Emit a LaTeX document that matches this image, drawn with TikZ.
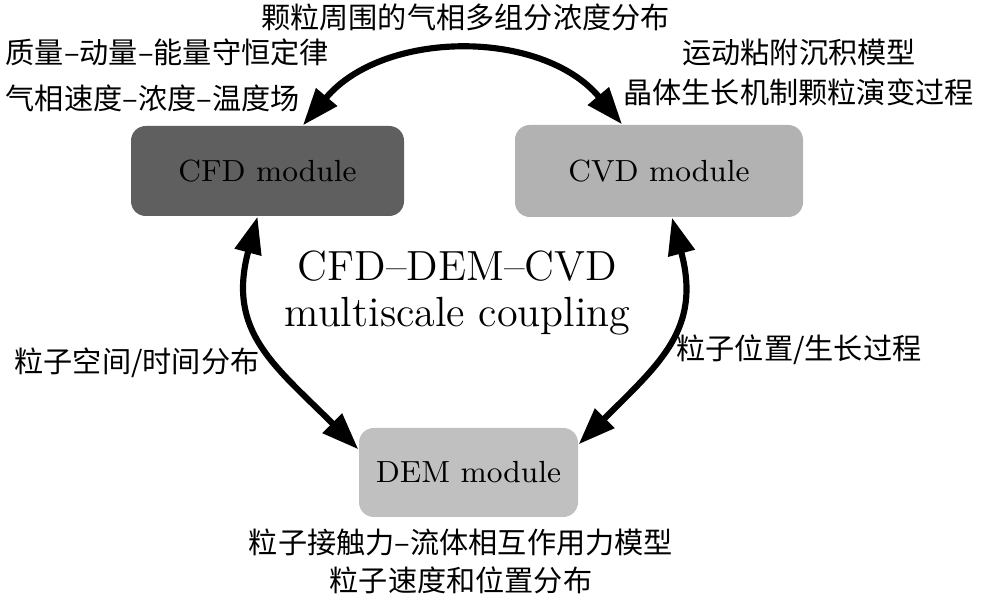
\documentclass[tikz,border=0pt]{standalone}
\usepackage{fontspec}
\newfontfamily\cjk{Noto Sans CJK SC}
\usetikzlibrary{arrows.meta}
\definecolor{cfdgray}{HTML}{5F5F5F}
\definecolor{cvdgray}{HTML}{B2B2B2}
\definecolor{demgray}{HTML}{C0C0C0}
\begin{document}
\begin{tikzpicture}[module/.style={rounded corners=4.2pt,inner sep=0pt,font=\fontsize{8.7}{9}\selectfont},
	note/.style={font=\cjk\fontsize{8.3}{9}\selectfont,inner sep=0pt},
	link/.style={line width=1.75pt,{Triangle[length=10.5pt,width=7.5pt]}-{Triangle[length=10.5pt,width=7.5pt]}}]
	\useasboundingbox (0,0) rectangle (9.93,6.04);
	\node[module,fill=cfdgray,minimum width=2.73cm,minimum height=0.9cm] (cfd) at (2.675,4.33) {CFD module};
	\node[module,fill=cvdgray,minimum width=2.88cm,minimum height=0.92cm] (cvd) at (6.59,4.33) {CVD module};
	\node[module,fill=demgray,minimum width=2.19cm,minimum height=0.89cm] (dem) at (4.685,1.315) {DEM module};
	\node[align=center,font=\fontsize{12}{13}\selectfont] (title) at (4.575,3.11) {CFD--DEM--CVD\\multiscale coupling};
	\draw[link] ([xshift=0.355cm]cfd.north) to[out=50,in=130] ([xshift=-0.37cm]cvd.north);
	\draw[link] ([xshift=-0.1cm]cfd.south) to[out=-105,in=135,looseness=1.2] ([yshift=-0.22cm]dem.north west);
	\draw[link] ([xshift=0.13cm]cvd.south) to[out=-75,in=45,looseness=1.2] ([yshift=-0.17cm]dem.north east);
	\node[note] (gasnote) at (4.655,5.87) {颗粒周围的气相多组分浓度分布};
	\node[note,anchor=west] (lawnote) at (0.05,5.52) {质量–动量–能量守恒定律};
	\node[note,anchor=west] (fieldnote) at (0.05,5.06) {气相速度–浓度–温度场};
	\node[note] (depnote) at (7.99,5.52) {运动粘附沉积模型};
	\node[note] (growthnote) at (7.985,5.12) {晶体生长机制颗粒演变过程};
	\node[note] (spacenote) at (1.37,2.41) {粒子空间/时间分布};
	\node[note] (posnote) at (7.99,2.54) {粒子位置/生长过程};
	\node[note] (forcenote) at (4.61,0.62) {粒子接触力–流体相互作用力模型};
	\node[note] (velnote) at (4.61,0.24) {粒子速度和位置分布};
\end{tikzpicture}
\end{document}
